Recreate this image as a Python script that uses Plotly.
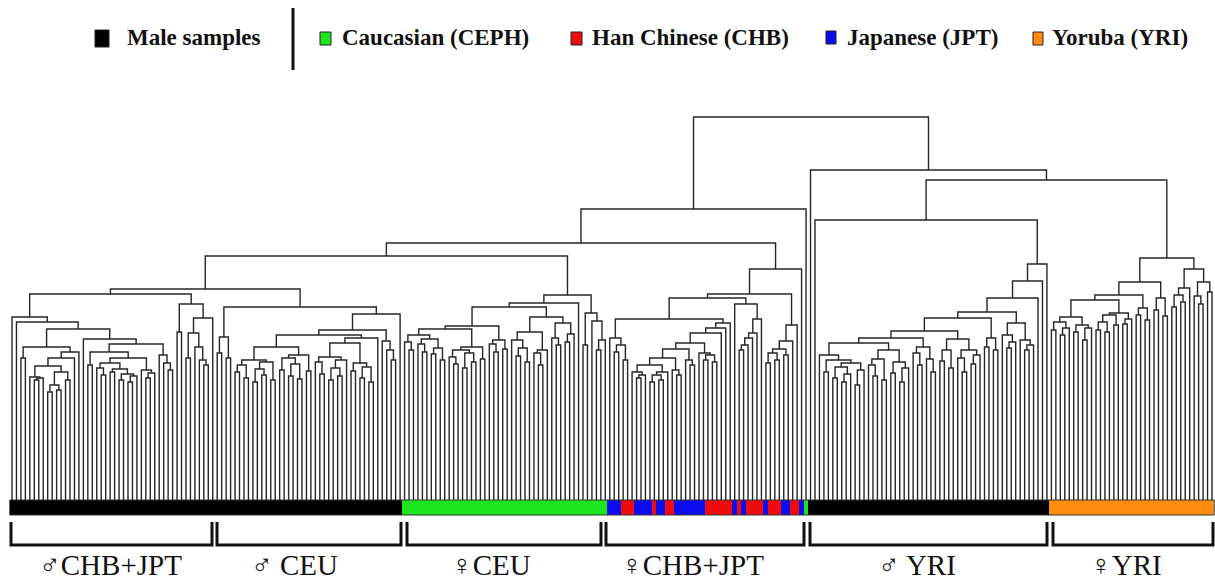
import plotly.graph_objects as go

# ---------------- data ----------------
# colour of each leaf in the bar, left to right, as runs
run_codes = ["M", "CEPH", "JPT", "CHB", "JPT", "CHB", "JPT", "CHB", "JPT", "CHB", "JPT",
             "CHB", "JPT", "CHB", "JPT", "CHB", "JPT", "CHB", "JPT", "CEPH", "M", "YRI"]
run_lengths = [88, 46, 3, 3, 4, 1, 2, 2, 7, 6, 1, 1, 1, 4, 1, 3, 2, 2, 1, 1, 54, 37]

# merge height of each pair of neighbouring leaves (height of their common node)
gaps_m_chb_jpt = [183, 178, 142, 153, 123, 120, 122, 134, 108, 115, 110, 128, 120, 142, 148,
                  171, 161, 135, 148, 132, 125, 137, 128, 131, 120, 126, 118, 124, 142, 130,
                  122, 127, 156, 145, 137, 130, 206, 168, 196, 142, 167, 153, 140, 135, 182]
gaps_m_ceu = [147, 163, 142, 193, 128, 135, 122, 140, 118, 131, 125, 138, 120, 153, 130,
              142, 124, 136, 121, 145, 129, 165, 138, 126, 143, 120, 132, 124, 140, 157,
              129, 137, 122, 133, 118, 162, 170, 159, 150, 140, 186]
gaps_f_ceu = [158, 150, 165, 156, 148, 161, 146, 152, 140, 171, 143, 136, 150, 132, 147,
              138, 153, 141, 174, 156, 148, 160, 151, 193, 160, 144, 152, 138, 168, 147,
              135, 150, 183, 162, 155, 177, 158, 166, 197, 205, 155, 187, 179, 150, 160]
gaps_f_chb_jpt = [162, 148, 155, 140, 181, 128, 122, 125, 135, 118, 125, 120, 128, 142, 130,
                  125, 151, 140, 135, 157, 147, 140, 145, 138, 167, 172, 177, 202, 196, 150,
                  155, 162, 167, 181, 206, 137, 147, 140, 151, 145, 159, 175, 231]
gaps_f_outlier = []
gaps_m_yri = [330, 280, 145, 128, 140, 122, 133, 118, 126, 137, 115, 130, 157, 135, 124,
              141, 120, 150, 127, 138, 118, 132, 162, 147, 135, 153, 141, 128, 169, 139,
              150, 132, 161, 142, 128, 150, 136, 145, 182, 153, 162, 150, 188, 165, 152,
              158, 177, 160, 150, 155, 202, 219, 236]
gaps_f_yri = [170, 178, 165, 172, 183, 168, 175, 160, 172, 200, 170, 178, 168, 185, 175,
              187, 176, 181, 205, 185, 192, 180, 218, 190, 202, 184, 242, 193, 205, 198,
              212, 231, 204, 196, 218, 208]
boundary_gaps = [211, 244, 257, 291, 383, 320]

group_labels = ["\u2642CHB+JPT", "\u2642 CEU", "\u2640CEU", "\u2640CHB+JPT", "\u2642 YRI", "\u2640YRI"]

legend_names = ["Male samples", "Caucasian (CEPH)", "Han Chinese (CHB)", "Japanese (JPT)", "Yoruba (YRI)"]
legend_codes = ["M", "CEPH", "CHB", "JPT", "YRI"]

# ---------------- styles / positions ----------------
code_colors = {"M": "#000000", "CEPH": "#1ee61e", "CHB": "#f00c0c", "JPT": "#0c0cf0", "YRI": "#ff8c0c"}
W, H = 1215, 582
LEAF0_PX, LEAF_STEP = 12.0, 1200.0 / 269.0
bracket_px = [(11, 212), (217, 401), (407, 601), (606, 804), (810, 1047), (1053, 1213)]
label_px = [110, 294, 491, 692, 917, 1126]

# ---------------- assemble ----------------
blocks = [gaps_m_chb_jpt, gaps_m_ceu, gaps_f_ceu, gaps_f_chb_jpt, gaps_f_outlier, gaps_m_yri, gaps_f_yri]
gaps = []
for b, blk in enumerate(blocks):
    gaps += blk
    if b < len(boundary_gaps):
        gaps.append(boundary_gaps[b])
n_leaves = len(gaps) + 1

leaf_codes = [c for c, n in zip(run_codes, run_lengths) for _ in range(n)]

xs, ys = [], []


def build(lo, hi):
    if lo == hi:
        return float(lo), 0.0
    k = max(range(lo, hi), key=lambda j: (gaps[j], -j))
    h = gaps[k]
    xl, hl = build(lo, k)
    xr, hr = build(k + 1, hi)
    xs.extend([xl, xl, xr, xr, None])
    ys.extend([hl, h, h, hr, None])
    return (xl + xr) / 2.0, h


build(0, n_leaves - 1)


def to_leaf(p):
    return (p - LEAF0_PX) / LEAF_STEP


fig = go.Figure()
fig.add_trace(go.Scatter(x=xs, y=ys, mode="lines", line=dict(color="#262626", width=1.4),
                         hoverinfo="skip", showlegend=False))

# colour strip under the leaves
order = legend_codes
z = [[order.index(c) for c in leaf_codes]]
nc = len(order)
cs = []
for i, c in enumerate(order):
    cs.append([i / nc, code_colors[c]])
    cs.append([(i + 1) / nc, code_colors[c]])
fig.add_trace(go.Heatmap(z=z, x=[i - 0.5 for i in range(n_leaves + 1)], y=[-15, 0],
                         colorscale=cs, zmin=-0.5, zmax=nc - 0.5, showscale=False,
                         hoverinfo="skip"))
fig.add_shape(type="rect", x0=-0.5, x1=n_leaves - 0.5, y0=-15, y1=0,
              line=dict(color="#333", width=1), fillcolor="rgba(0,0,0,0)")

# brackets and labels
for lab, (a, b), lx in zip(group_labels, bracket_px, label_px):
    x0, x1 = to_leaf(a), to_leaf(b)
    fig.add_shape(type="path", path=f"M {x0},-22 L {x0},-45 L {x1},-45 L {x1},-22",
                  line=dict(color="#111", width=3))
    fig.add_annotation(x=to_leaf(lx), y=-65, text=lab, showarrow=False,
                       xanchor="center", yanchor="middle",
                       font=dict(family="Liberation Serif, DejaVu Serif, serif", size=29, color="#111"))


# legend at the top (pixel positions)
def px(x):
    return x / W


def py(y):
    return 1 - y / H


sq = [(95, 30, 109, 47), (320, 32, 331, 45), (571, 32, 582, 45), (826, 31, 836, 44), (1033, 32, 1043, 45)]
tx = [125, 340, 590, 845, 1050]
for name, code, (a, b, c, d), t in zip(legend_names, legend_codes, sq, tx):
    fig.add_shape(type="rect", xref="paper", yref="paper", x0=px(a), x1=px(c), y0=py(d), y1=py(b),
                  fillcolor=code_colors[code], line=dict(color="#222", width=1))
    fig.add_annotation(xref="paper", yref="paper", x=px(t), y=py(38), text="<b>" + name + "</b>",
                       showarrow=False, xanchor="left", yanchor="middle",
                       font=dict(family="Liberation Serif, Times New Roman, serif", size=23, color="#111"))
fig.add_shape(type="line", xref="paper", yref="paper", x0=px(293), x1=px(293), y0=py(70), y1=py(8),
              line=dict(color="#111", width=3))

x_lo = -LEAF0_PX / LEAF_STEP
fig.update_layout(
    width=W, height=H, margin=dict(l=0, r=0, t=0, b=0),
    paper_bgcolor="white", plot_bgcolor="white", showlegend=False,
    xaxis=dict(visible=False, range=[x_lo, x_lo + W / LEAF_STEP], fixedrange=True),
    yaxis=dict(visible=False, range=[500 - H, 500], fixedrange=True),
)

fig.write_html("out.html", config={"displayModeBar": False},
               post_script="document.body.style.margin='0px';document.body.style.overflow='hidden';")
